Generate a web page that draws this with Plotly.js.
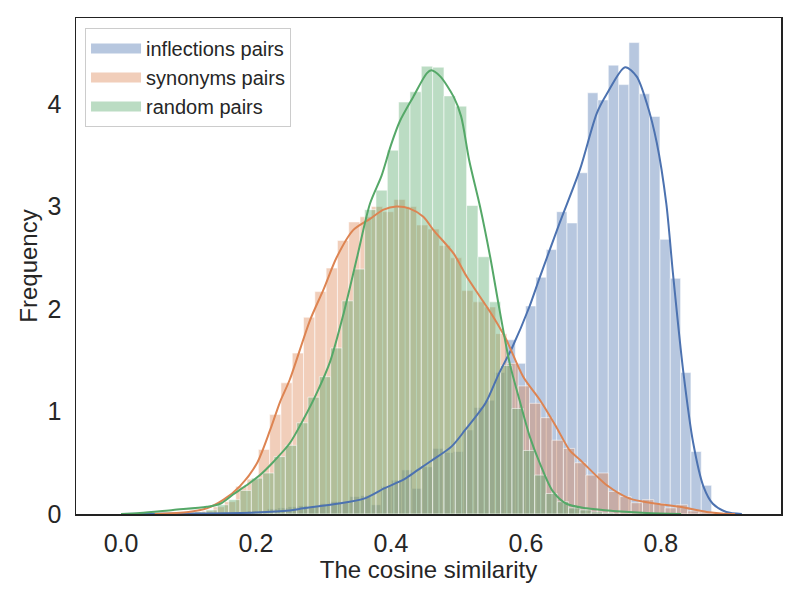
<!DOCTYPE html>
<html>
<head>
<meta charset="utf-8">
<script src="https://cdn.plot.ly/plotly-3.0.1.min.js"></script>
<style>
  html, body { margin: 0; padding: 0; background: #fff; }
  #chart { width: 800px; height: 600px; }
</style>
</head>
<body>
<div id="chart"></div>
<script>
// histogram bins (cosine similarity)
const inflStart = 0.1709, inflWidth = 0.01531;
const inflHist = [0.02, 0.03, 0.03, 0.05, 0.06, 0.07, 0.08, 0.07, 0.10, 0.12, 0.11, 0.17, 0.18, 0.09, 0.27, 0.33,
  0.43, 0.25, 0.46, 0.64, 0.60, 0.61, 0.82, 1.04, 1.11, 1.38, 1.70, 1.47,
  2.03, 2.31, 2.58, 2.95, 2.84, 3.33, 4.11, 4.04, 4.38, 4.19, 4.60, 4.10, 3.88, 2.68, 2.30, 1.38, 0.61, 0.28];

const synStart = 0.1031, synWidth = 0.01674;
const synHist = [0.02, 0.03, 0.07, 0.12, 0.27, 0.34, 0.63, 0.97,
  1.28, 1.57, 1.92, 2.17, 2.40, 2.67, 2.85, 2.90, 3.00, 2.95, 3.07, 3.00,
  2.82, 2.78, 2.62, 2.50, 2.18, 2.07, 2.02, 1.76, 1.47, 1.25, 1.08, 0.94,
  0.72, 0.64, 0.50, 0.38, 0.40, 0.22, 0.17, 0.11, 0.14, 0.10, 0.06, 0.09, 0.03, 0.02];

const randStart = 0.0924, randWidth = 0.01679;
const randHist = [0.01, 0.02, 0.04, 0.09, 0.14, 0.23, 0.35, 0.40,
  0.56, 0.67, 0.89, 1.14, 1.34, 1.62, 2.08, 2.39, 2.97, 3.16, 3.55,
  4.02, 4.12, 4.37, 4.36, 4.08, 3.98, 3.01, 2.51, 2.07, 1.45, 1.03, 0.62,
  0.38, 0.20, 0.12, 0.06, 0.04, 0.02, 0.01];

// kde curves
const inflKdeX = [0.00, 0.10, 0.20, 0.25, 0.27, 0.32, 0.36, 0.39, 0.42, 0.44, 0.46, 0.49, 0.51, 0.54, 0.56, 0.58,
  0.605, 0.62, 0.65, 0.68, 0.705, 0.72, 0.747, 0.764, 0.779, 0.794, 0.808, 0.818, 0.833, 0.848, 0.863, 0.877, 0.897, 0.92];
const inflKdeY = [0.0, 0.004, 0.015, 0.035, 0.055, 0.10, 0.15, 0.25, 0.34, 0.43, 0.52, 0.66, 0.82, 1.08, 1.37, 1.63,
  2.02, 2.30, 2.84, 3.36, 3.91, 4.10, 4.36, 4.27, 4.01, 3.62, 3.03, 2.34, 1.40, 0.69, 0.27, 0.10, 0.02, 0.0];

const synKdeX = [0.05, 0.10, 0.127, 0.152, 0.176, 0.201, 0.221, 0.236, 0.25, 0.28, 0.30, 0.32, 0.344, 0.369, 0.389,
  0.408, 0.428, 0.448, 0.463, 0.493, 0.512, 0.532, 0.552, 0.571, 0.596, 0.621, 0.645, 0.665, 0.68, 0.72,
  0.754, 0.794, 0.828, 0.868, 0.89, 0.91];
const synKdeY = [0.0, 0.02, 0.055, 0.14, 0.27, 0.49, 0.82, 1.10, 1.31, 1.89, 2.19, 2.51, 2.77, 2.88, 2.97,
  3.00, 2.98, 2.90, 2.77, 2.54, 2.32, 2.12, 1.92, 1.70, 1.34, 1.11, 0.85, 0.62, 0.53, 0.28,
  0.15, 0.10, 0.07, 0.02, 0.005, 0.0];

const randKdeX = [0.0, 0.028, 0.077, 0.127, 0.147, 0.166, 0.186, 0.206, 0.226, 0.25, 0.27, 0.29, 0.31, 0.33, 0.35,
  0.369, 0.386, 0.40, 0.413, 0.433, 0.453, 0.46, 0.473, 0.493, 0.504, 0.516, 0.532, 0.547, 0.561, 0.576,
  0.591, 0.606, 0.621, 0.64, 0.66, 0.69, 0.729, 0.779, 0.83];
const randKdeY = [0.0, 0.01, 0.04, 0.07, 0.10, 0.19, 0.28, 0.38, 0.51, 0.69, 0.92, 1.18, 1.49, 1.96, 2.51,
  3.03, 3.30, 3.60, 3.83, 4.07, 4.30, 4.33, 4.27, 4.07, 3.88, 3.45, 3.00, 2.51, 1.99, 1.47,
  1.10, 0.75, 0.49, 0.22, 0.10, 0.055, 0.03, 0.01, 0.0];

const names = ['inflections pairs', 'synonyms pairs', 'random pairs'];
const colors = ['76,114,176', '221,132,82', '85,168,104'];

function centers(start, width, n){
  let out = [];
  for (let i = 0; i < n; i++) out.push(start + (i + 0.5) * width);
  return out;
}

function histTrace(start, width, vals, c){
  return {
    type: 'bar', x: centers(start, width, vals.length), y: vals, width: width,
    marker: {color: 'rgba(' + c + ',0.4)', line: {color: 'rgba(255,255,255,0.55)', width: 1}},
    showlegend: false, hoverinfo: 'skip'
  };
}
function kdeTrace(xs, ys, c){
  return {
    type: 'scatter', mode: 'lines', x: xs, y: ys,
    line: {color: 'rgb(' + c + ')', width: 2, shape: 'spline', smoothing: 0.8},
    showlegend: false, hoverinfo: 'skip'
  };
}
//legend patches, wide flat swatches like matplotlib
function legendTrace(name, c){
  return {
    type: 'scatter', mode: 'lines', x: [null], y: [null], name: name,
    line: {color: 'rgba(' + c + ',0.4)', width: 13}, hoverinfo: 'skip'
  };
}

var data = [
  histTrace(inflStart, inflWidth, inflHist, colors[0]),
  histTrace(synStart, synWidth, synHist, colors[1]),
  histTrace(randStart, randWidth, randHist, colors[2]),
  kdeTrace(inflKdeX, inflKdeY, colors[0]),
  kdeTrace(synKdeX, synKdeY, colors[1]),
  kdeTrace(randKdeX, randKdeY, colors[2]),
  legendTrace(names[0], colors[0]),
  legendTrace(names[1], colors[1]),
  legendTrace(names[2], colors[2])
];

var fontFam = '"Liberation Sans", Arial, sans-serif';
var layout = {
  width: 800, height: 600,
  margin: {l: 76, r: 19, t: 18, b: 86},
  paper_bgcolor: '#fff', plot_bgcolor: '#fff',
  barmode: 'overlay', bargap: 0,
  font: {family: fontFam, color: '#262626'},
  xaxis: {
    range: [-0.0667, 0.978], tickvals: [0, 0.2, 0.4, 0.6, 0.8], ticktext: ['0.0', '0.2', '0.4', '0.6', '0.8'],
    showgrid: false, zeroline: false, showline: true, mirror: true, linecolor: '#222', linewidth: 1.5,
    ticks: 'outside', ticklen: 6, tickcolor: 'rgba(0,0,0,0)',
    tickfont: {size: 25, family: fontFam, color: '#262626'},
    title: {text: 'The cosine similarity', font: {size: 24, family: fontFam, color: '#262626'}, standoff: 5}
  },
  yaxis: {
    range: [0, 4.84], tickvals: [0, 1, 2, 3, 4],
    showgrid: false, zeroline: false, showline: true, mirror: true, linecolor: '#222', linewidth: 1.5,
    ticks: 'outside', ticklen: 8, tickcolor: 'rgba(0,0,0,0)',
    tickfont: {size: 25, family: fontFam, color: '#262626'},
    title: {text: 'Frequency', font: {size: 24, family: fontFam, color: '#262626'}, standoff: 3}
  },
  legend: {
    x: 0.0128, y: 0.98, xanchor: 'left', yanchor: 'top',
    bgcolor: 'rgba(255,255,255,0.8)', bordercolor: '#cccccc', borderwidth: 1,
    itemwidth: 50,
    font: {size: 20, family: fontFam, color: '#262626'}
  },
  showlegend: true
};

Plotly.newPlot('chart', data, layout, {displayModeBar: false, staticPlot: true});
</script>
</body>
</html>
